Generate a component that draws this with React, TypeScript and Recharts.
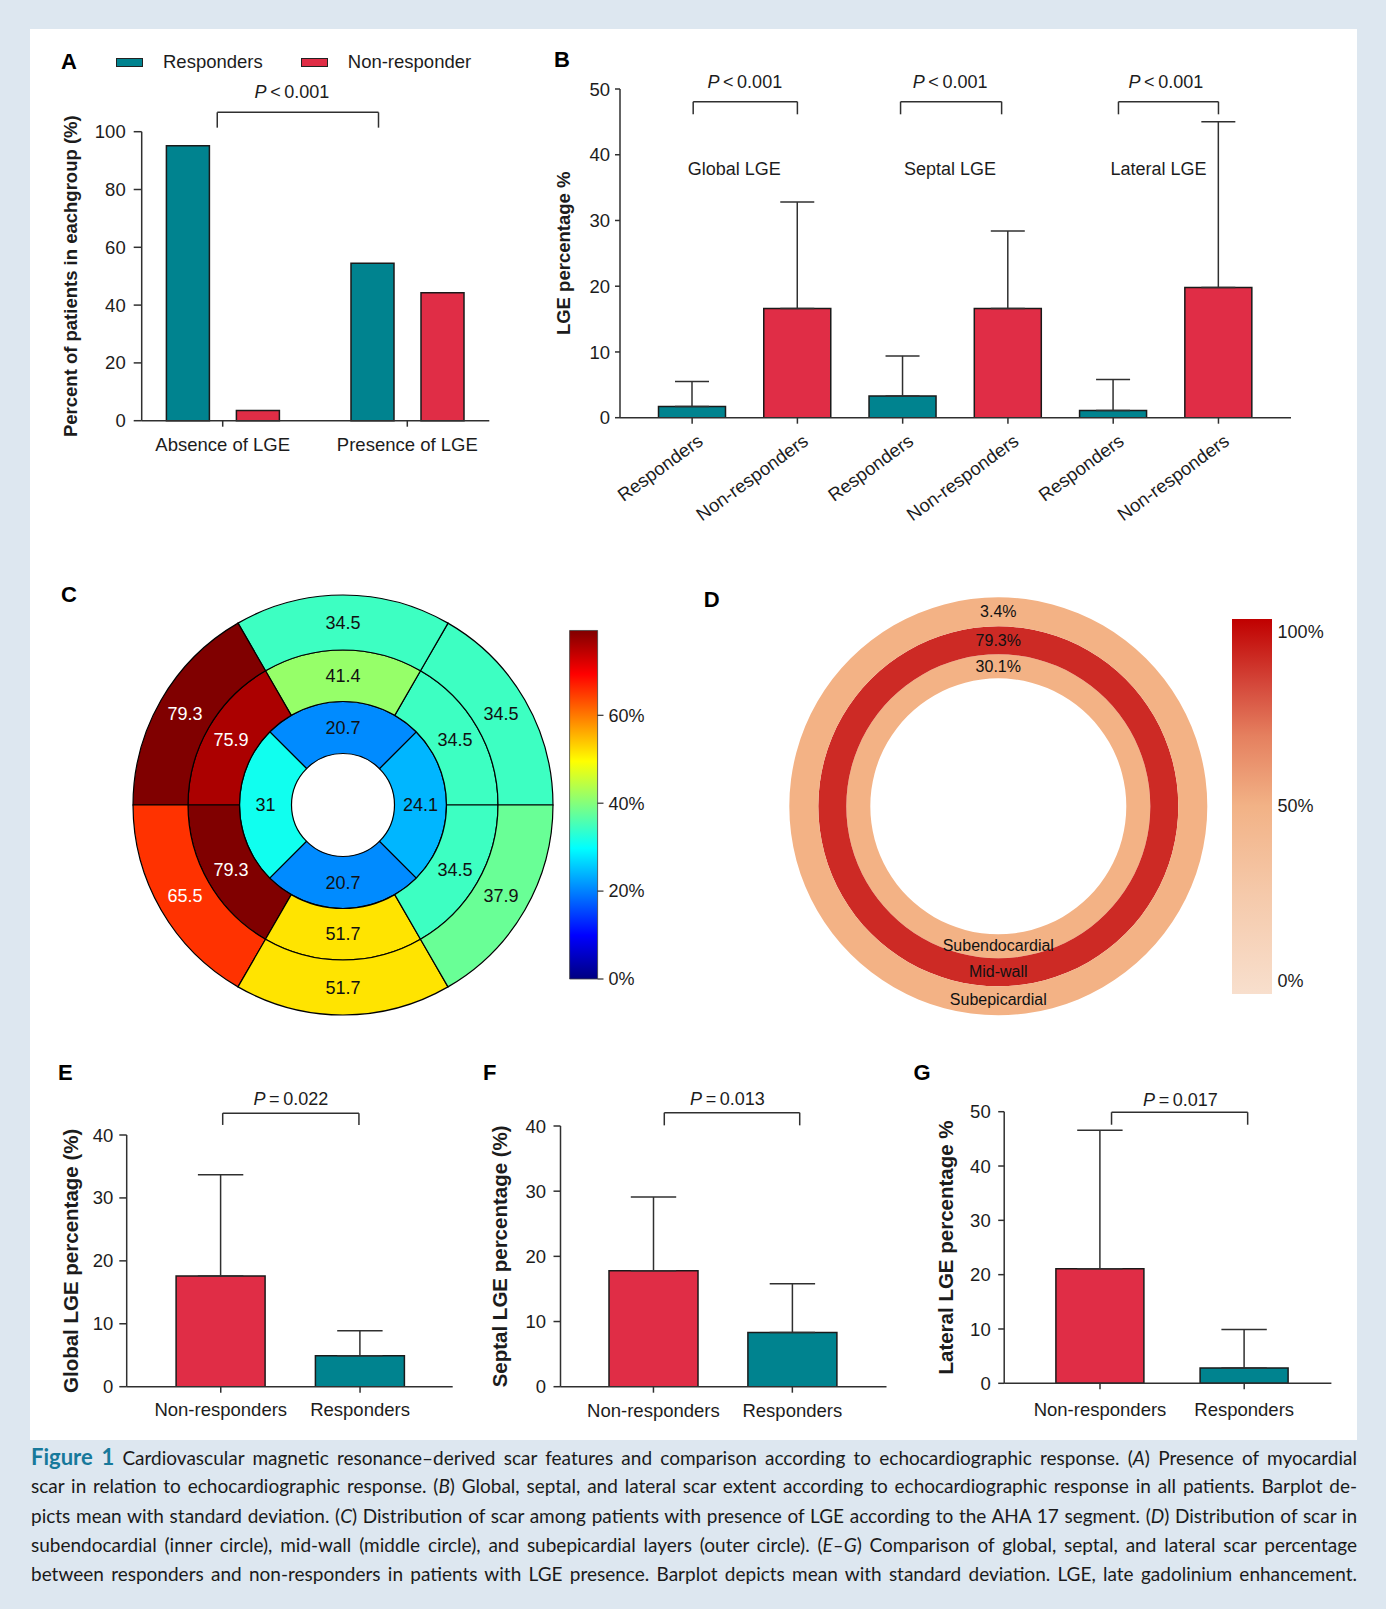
import React from 'react';
import {
  BarChart,
  Bar,
  XAxis,
  YAxis,
  ErrorBar,
  Cell,
  ReferenceLine,
  ReferenceDot,
  Legend,
  PieChart,
  Pie,
} from 'recharts';

const BG = '#dde7f0';
const TEAL = '#00838f';
const RED = '#e02d46';
const INK = '#1c1c1c';
const AXIS = '#303030';
const FONT = "'Liberation Sans', Arial, Helvetica, sans-serif";

// A: presence of scar by response group
const aGroups = ['Absence of LGE', 'Presence of LGE'];
const aSeries = ['Responders', 'Non-responder'];
const aResponders = [95.1, 54.5];
const aNonResponders = [3.5, 44.3];
const aTicks = [0, 20, 40, 60, 80, 100];

// B: global / septal / lateral scar, mean with SD
const bRegions = ['Global LGE', 'Septal LGE', 'Lateral LGE'];
const bArms = ['Responders', 'Non-responders'];
const bMeans = [1.7, 16.6, 3.3, 16.6, 1.1, 19.8];
const bSD = [3.8, 16.2, 6.1, 11.8, 4.7, 25.2];
const bTicks = [0, 10, 20, 30, 40, 50];

// C: AHA bullseye (counter-clockwise from 3 o'clock)
const cBasal = [34.5, 34.5, 79.3, 65.5, 51.7, 37.9];
const cMid = [34.5, 41.4, 75.9, 79.3, 51.7, 34.5];
const cApical = [24.1, 20.7, 31, 20.7]; // starts at -45 deg
const cBarTicks = [0, 20, 40, 60];

// D: layers (inner -> outer)
const dLayers = ['Subendocardial', 'Mid-wall', 'Subepicardial'];
const dShares = [30.1, 79.3, 3.4];
const dBarTicks = [0, 50, 100];
const dBarRange: [number, number] = [-3.8, 103.5];

// E/F/G
const efgArms = ['Non-responders', 'Responders'];
const eMeans = [17.6, 4.9];
const eSD = [16.1, 4.0];
const fMeans = [17.8, 8.3];
const fSD = [11.3, 7.5];
const gMeans = [21.1, 2.8];
const gSD = [25.5, 7.1];
const t40 = [0, 10, 20, 30, 40];
const t50 = [0, 10, 20, 30, 40, 50];

type Row = { slot: string; arm: string; mean: number; err: [number, number]; pos: number };
type Note = { x1: number; x2: number; y: number; leg: number; tx: number; ty: number; p: string };
type Tag = { x: number; y: number; text: string };

const armFill = (arm: string) => (arm === 'Responders' ? TEAL : RED);

const jet = (t: number) => {
  const c = (v: number) => Math.round(255 * Math.max(0, Math.min(1, v)));
  return `rgb(${c(1.5 - Math.abs(4 * t - 3))},${c(1.5 - Math.abs(4 * t - 2))},${c(1.5 - Math.abs(4 * t - 1))})`;
};
const cMax = Math.max(...cBasal, ...cMid, ...cApical);

const axisTitle = (text: string, dx: number, size: number) => (props: any) => {
  const vb = props.viewBox || {};
  const x = (vb.x ?? 0) + dx;
  const y = (vb.y ?? 0) + (vb.height ?? 0) / 2;
  return (
    <text
      x={x}
      y={y}
      transform={`rotate(-90, ${x}, ${y})`}
      textAnchor="middle"
      dominantBaseline="central"
      fontFamily={FONT}
      fontWeight="bold"
      fontSize={size}
      fill={INK}
    >
      {text}
    </text>
  );
};

const noteText = (text: string, italicP: boolean) => (props: any) => {
  const vb = props.viewBox || {};
  const x = (vb.x ?? 0) + (vb.width ?? 0) / 2;
  const y = (vb.y ?? 0) + (vb.height ?? 0) / 2;
  return (
    <text x={x} y={y} textAnchor="middle" dominantBaseline="central" fontFamily={FONT} fontSize={18} fill={INK}>
      {italicP ? <tspan fontStyle="italic">P</tspan> : null}
      {text}
    </text>
  );
};

const bracket = (key: string, n: Note) => [
  <ReferenceLine key={key + 'h'} xAxisId="n" ifOverflow="visible" segment={[{ x: n.x1, y: n.y }, { x: n.x2, y: n.y }]} stroke={AXIS} strokeWidth={1.5} />,
  <ReferenceLine key={key + 'l'} xAxisId="n" ifOverflow="visible" segment={[{ x: n.x1, y: n.y }, { x: n.x1, y: n.leg }]} stroke={AXIS} strokeWidth={1.5} />,
  <ReferenceLine key={key + 'r'} xAxisId="n" ifOverflow="visible" segment={[{ x: n.x2, y: n.y }, { x: n.x2, y: n.leg }]} stroke={AXIS} strokeWidth={1.5} />,
  <ReferenceDot key={key + 't'} xAxisId="n" ifOverflow="visible" x={n.tx} y={n.ty} r={0} fill="none" stroke="none" label={noteText(n.p, true)} />,
];

const SlantTick = (props: any) => {
  const { x, y, payload } = props;
  const label = String(payload.value).split('|')[1];
  return (
    <text
      x={0}
      y={0}
      transform={`translate(${x + 12},${y + 18}) rotate(-36)`}
      textAnchor="end"
      fontFamily={FONT}
      fontSize={18.5}
      fill={INK}
    >
      {label}
    </text>
  );
};

interface SdPanelProps {
  left: number;
  top: number;
  width: number;
  height: number;
  margin: { top: number; right: number; bottom: number; left: number };
  rows: Row[];
  yWidth: number;
  domain: [number, number];
  ticks: number[];
  yTickSize: number;
  yTickMargin: number;
  title: string;
  titleDx: number;
  titleSize: number;
  pad: { left: number; right: number };
  xHeight: number;
  xTickMargin: number;
  barSize: number;
  cap: number;
  notes: Note[];
  slant?: boolean;
  tags?: Tag[];
}

function SdPanel(p: SdPanelProps) {
  return (
    <div style={{ position: 'absolute', left: p.left, top: p.top }}>
      <BarChart width={p.width} height={p.height} data={p.rows} margin={p.margin}>
        <XAxis
          dataKey="slot"
          padding={p.pad}
          height={p.xHeight}
          interval={0}
          tickSize={6}
          tickMargin={p.slant ? 2 : p.xTickMargin}
          axisLine={{ stroke: AXIS, strokeWidth: 1.5 }}
          tickLine={{ stroke: AXIS, strokeWidth: 1.5 }}
          tick={p.slant ? <SlantTick /> : { fill: INK, fontSize: 18.5, fontFamily: FONT }}
          tickFormatter={(v: string) => String(v).split('|')[1]}
        />
        <XAxis xAxisId="n" dataKey="pos" type="number" domain={[0, p.rows.length]} padding={p.pad} allowDataOverflow hide />
        <YAxis
          domain={p.domain}
          ticks={p.ticks}
          width={p.yWidth}
          tickSize={p.yTickSize}
          tickMargin={p.yTickMargin}
          axisLine={{ stroke: AXIS, strokeWidth: 1.5 }}
          tickLine={{ stroke: AXIS, strokeWidth: 1.5 }}
          tick={{ fill: INK, fontSize: 18.5, fontFamily: FONT }}
          allowDataOverflow
          label={axisTitle(p.title, p.titleDx, p.titleSize)}
        />
        <Bar dataKey="mean" barSize={p.barSize} stroke="#1a1a1a" strokeWidth={1.5} isAnimationActive={false}>
          {p.rows.map((r) => (
            <Cell key={r.slot} fill={armFill(r.arm)} />
          ))}
          <ErrorBar dataKey="err" width={p.cap} stroke={AXIS} strokeWidth={1.5} direction="y" isAnimationActive={false} />
        </Bar>
        {p.notes.map((n, i) => bracket('b' + i, n))}
        {(p.tags || []).map((t, i) => (
          <ReferenceDot key={'tag' + i} xAxisId="n" ifOverflow="visible" x={t.x} y={t.y} r={0} fill="none" stroke="none" label={noteText(t.text, false)} />
        ))}
      </BarChart>
    </div>
  );
}

const bRows: Row[] = bRegions.flatMap((reg, i) =>
  bArms.map((arm, j) => ({
    slot: `${reg}|${arm}`,
    arm,
    mean: bMeans[i * 2 + j],
    err: [0, bSD[i * 2 + j]] as [number, number],
    pos: i * 2 + j + 0.5,
  })),
);
const mkRows = (tag: string, means: number[], sds: number[]): Row[] =>
  efgArms.map((arm, i) => ({ slot: `${tag}|${arm}`, arm, mean: means[i], err: [0, sds[i]], pos: i + 0.5 }));

const aRows = aGroups.map((g, i) => ({ group: g, responders: aResponders[i], non: aNonResponders[i], pos: i + 0.5 }));

const aLegend = (props: any) => {
  const items = [...(props.payload || [])].sort((u: any, v: any) => aSeries.indexOf(u.value) - aSeries.indexOf(v.value));
  return (
    <div style={{ display: 'flex', alignItems: 'center', fontFamily: FONT, fontSize: 18.5, color: INK, whiteSpace: 'nowrap' }}>
      {items.map((it: any, i: number) => (
        <span key={i} style={{ display: 'flex', alignItems: 'center', marginRight: 38 }}>
          <span style={{ display: 'inline-block', width: 25, height: 7, border: '1px solid #222', background: it.color, marginRight: 20 }} />
          <span>{it.value}</span>
        </span>
      ))}
    </div>
  );
};

function PanelA() {
  const note: Note = { x1: 0.4705, x2: 1.344, y: 106.7, leg: 101.4, tx: 0.875, ty: 113.8, p: '\u2009<\u20090.001' };
  return (
    <div style={{ position: 'absolute', left: 40, top: 40 }}>
      <BarChart width={480} height={440} data={aRows} margin={{ top: 91.7, right: 30.7, bottom: 19.3, left: 0 }} barGap={27}>
        <XAxis
          dataKey="group"
          padding={{ left: -11.3, right: -10.3 }}
          height={40}
          tickSize={6}
          tickMargin={11}
          axisLine={{ stroke: AXIS, strokeWidth: 1.5 }}
          tickLine={{ stroke: AXIS, strokeWidth: 1.5 }}
          tick={{ fill: INK, fontSize: 18.5, fontFamily: FONT }}
        />
        <XAxis xAxisId="n" dataKey="pos" type="number" domain={[0, 2]} padding={{ left: -11.3, right: -10.3 }} allowDataOverflow hide />
        <YAxis
          domain={[0, 100]}
          ticks={aTicks}
          width={101.7}
          tickSize={8}
          tickMargin={8}
          axisLine={{ stroke: AXIS, strokeWidth: 1.5 }}
          tickLine={{ stroke: AXIS, strokeWidth: 1.5 }}
          tick={{ fill: INK, fontSize: 18.5, fontFamily: FONT }}
          label={axisTitle('Percent of patients in eachgroup (%)', 31, 18.5)}
        />
        <Legend
          layout="horizontal"
          verticalAlign="middle"
          align="center"
          content={aLegend}
          wrapperStyle={{ left: 76, top: 11, width: 420, height: 22 }}
        />
        <Bar dataKey="responders" name={aSeries[0]} fill={TEAL} barSize={43} stroke="#1a1a1a" strokeWidth={1.5} isAnimationActive={false} />
        <Bar dataKey="non" name={aSeries[1]} fill={RED} barSize={43} stroke="#1a1a1a" strokeWidth={1.5} isAnimationActive={false} />
        {bracket('a', note)}
      </BarChart>
    </div>
  );
}

const ringLabel = (props: any) => {
  const { cx, cy, midAngle, innerRadius, outerRadius, payload } = props;
  const r = (innerRadius + outerRadius) / 2;
  const rad = Math.PI / 180;
  const x = cx + r * Math.cos(-midAngle * rad);
  const y = cy + r * Math.sin(-midAngle * rad);
  const v = payload.scar as number;
  return (
    <text x={x} y={y} textAnchor="middle" dominantBaseline="central" fontFamily={FONT} fontSize={18} fill={v / cMax > 0.8 ? '#ffffff' : '#111'}>
      {String(v)}
    </text>
  );
};

function PanelC() {
  const rings = [
    { key: 'apical', data: cApical, inner: 51.5, outer: 103.5, start: -45 },
    { key: 'mid', data: cMid, inner: 103.5, outer: 155, start: 0 },
    { key: 'basal', data: cBasal, inner: 155, outer: 210, start: 0 },
  ];
  const jetStops = [0, 0.125, 0.375, 0.625, 0.875, 1];
  return (
    <>
      <div style={{ position: 'absolute', left: 100, top: 570 }}>
        <PieChart width={460} height={470} margin={{ top: 0, right: 0, bottom: 0, left: 0 }}>
          {rings.map((ring) => (
            <Pie
              key={ring.key}
              data={ring.data.map((v) => ({ scar: v }))}
              dataKey={() => 1}
              cx={243}
              cy={235}
              innerRadius={ring.inner}
              outerRadius={ring.outer}
              startAngle={ring.start}
              endAngle={ring.start + 360}
              stroke="#000"
              strokeWidth={1.2}
              label={ringLabel}
              labelLine={false}
              isAnimationActive={false}
            >
              {ring.data.map((v, i) => (
                <Cell key={i} fill={jet(v / cMax)} />
              ))}
            </Pie>
          ))}
        </PieChart>
      </div>
      <div style={{ position: 'absolute', left: 560, top: 600 }}>
        <BarChart width={100} height={400} data={[{ k: 'scale', range: [0, cMax] }]} margin={{ top: 27.4, right: 7.5, bottom: 21, left: 9.6 }} barCategoryGap={0}>
          <defs>
            <linearGradient id="jetGrad" x1="0" y1="1" x2="0" y2="0">
              {jetStops.map((t) => (
                <stop key={t} offset={t} stopColor={jet(t)} />
              ))}
            </linearGradient>
          </defs>
          <XAxis dataKey="k" hide />
          <YAxis
            orientation="right"
            domain={[0, 80]}
            ticks={cBarTicks}
            width={55}
            tickSize={6}
            tickMargin={5}
            axisLine={false}
            tickLine={{ stroke: AXIS, strokeWidth: 1.2 }}
            tick={{ fill: INK, fontSize: 18, fontFamily: FONT }}
            tickFormatter={(v: number) => `${v}%`}
          />
          <Bar dataKey="range" fill="url(#jetGrad)" stroke="#444" strokeWidth={0.8} isAnimationActive={false} />
        </BarChart>
      </div>
    </>
  );
}

const layerLabel = (props: any) => {
  const { cx, cy, innerRadius, outerRadius, payload } = props;
  const r = (innerRadius + outerRadius) / 2;
  return (
    <g fontFamily={FONT} fontSize={16} fill="#111">
      <text x={cx} y={cy - r} textAnchor="middle" dominantBaseline="central">{`${payload.share}%`}</text>
      <text x={cx} y={cy + r - 1} textAnchor="middle" dominantBaseline="central">{payload.layer}</text>
    </g>
  );
};

function PanelD() {
  const radii = [
    [128, 152],
    [152, 180],
    [180, 209],
  ];
  const colors = ['#f3b285', '#cd2a25', '#f3b285'];
  const gradStops = [
    { v: -3.8, c: '#f8dfcd' },
    { v: 25, c: '#f5c9aa' },
    { v: 50, c: '#f2b286' },
    { v: 70, c: '#e5805f' },
    { v: 85, c: '#d4473a' },
    { v: 103.5, c: '#c00000' },
  ];
  const span = dBarRange[1] - dBarRange[0];
  return (
    <>
      <div style={{ position: 'absolute', left: 780, top: 580 }}>
        <PieChart width={440} height={440} margin={{ top: 0, right: 0, bottom: 0, left: 0 }}>
          {dLayers.map((layer, i) => (
            <Pie
              key={layer}
              data={[{ layer, share: dShares[i] }]}
              dataKey={() => 1}
              cx={218.3}
              cy={226.3}
              innerRadius={radii[i][0]}
              outerRadius={radii[i][1]}
              startAngle={90}
              endAngle={450}
              stroke="none"
              fill={colors[i]}
              label={layerLabel}
              labelLine={false}
              isAnimationActive={false}
            />
          ))}
        </PieChart>
      </div>
      <div style={{ position: 'absolute', left: 1220, top: 590 }}>
        <BarChart width={130} height={420} data={[{ k: 'scale', range: dBarRange }]} margin={{ top: 29, right: 8, bottom: 16, left: 12 }} barCategoryGap={0}>
          <defs>
            <linearGradient id="redGrad" x1="0" y1="1" x2="0" y2="0">
              {gradStops.map((s) => (
                <stop key={s.v} offset={(s.v - dBarRange[0]) / span} stopColor={s.c} />
              ))}
            </linearGradient>
          </defs>
          <XAxis dataKey="k" hide />
          <YAxis
            orientation="right"
            domain={dBarRange}
            ticks={dBarTicks}
            width={70}
            tickSize={0}
            tickMargin={5.6}
            axisLine={false}
            tickLine={false}
            allowDataOverflow
            tick={{ fill: INK, fontSize: 18, fontFamily: FONT }}
            tickFormatter={(v: number) => `${v}%`}
          />
          <Bar dataKey="range" fill="url(#redGrad)" isAnimationActive={false} />
        </BarChart>
      </div>
    </>
  );
}

const letters = [
  { t: 'A', x: 61, y: 61.7 },
  { t: 'B', x: 554, y: 60 },
  { t: 'C', x: 61, y: 595 },
  { t: 'D', x: 703.8, y: 599.3 },
  { t: 'E', x: 58, y: 1073 },
  { t: 'F', x: 483, y: 1073 },
  { t: 'G', x: 913.5, y: 1073 },
];

const captionLines: React.ReactNode[] = [
  <>
    <b style={{ color: '#17799b', fontSize: 22 }}>Figure 1</b> Cardiovascular magnetic resonance–derived scar features and comparison according to echocardiographic response. (<i>A</i>) Presence of myocardial
  </>,
  <>
    scar in relation to echocardiographic response. (<i>B</i>) Global, septal, and lateral scar extent according to echocardiographic response in all patients. Barplot de-
  </>,
  <>
    picts mean with standard deviation. (<i>C</i>) Distribution of scar among patients with presence of LGE according to the AHA 17 segment. (<i>D</i>) Distribution of scar in
  </>,
  <>
    subendocardial (inner circle), mid-wall (middle circle), and subepicardial layers (outer circle). (<i>E–G</i>) Comparison of global, septal, and lateral scar percentage
  </>,
  <>between responders and non-responders in patients with LGE presence. Barplot depicts mean with standard deviation. LGE, late gadolinium enhancement.</>,
];

export default function App() {
  return (
    <div style={{ position: 'absolute', left: 0, top: 0, width: 1386, height: 1609, background: BG, overflow: 'hidden', fontFamily: FONT }}>
      <div style={{ position: 'absolute', left: 30, top: 29, width: 1327, height: 1411, background: '#ffffff' }} />

      <PanelA />

      <SdPanel
        left={540}
        top={40}
        width={760}
        height={500}
        margin={{ top: 49, right: 9, bottom: 12.3, left: 0 }}
        rows={bRows}
        yWidth={80}
        domain={[0, 50]}
        ticks={bTicks}
        yTickSize={5}
        yTickMargin={5}
        title="LGE percentage %"
        titleDx={23.6}
        titleSize={18.5}
        pad={{ left: 19.5, right: 19.9 }}
        xHeight={110}
        xTickMargin={2}
        barSize={67}
        cap={17}
        slant
        notes={[
          { x1: 0.51, x2: 1.5, y: 48.07, leg: 46.15, tx: 1.0, ty: 51.0, p: '\u2009<\u20090.001' },
          { x1: 2.48, x2: 3.44, y: 48.07, leg: 46.15, tx: 2.95, ty: 51.0, p: '\u2009<\u20090.001' },
          { x1: 4.55, x2: 5.5, y: 48.07, leg: 46.15, tx: 5.0, ty: 51.0, p: '\u2009<\u20090.001' },
        ]}
        tags={[
          { x: 0.9, y: 37.8, text: bRegions[0] },
          { x: 2.95, y: 37.8, text: bRegions[1] },
          { x: 4.93, y: 37.8, text: bRegions[2] },
        ]}
      />

      <PanelC />
      <PanelD />

      <SdPanel
        left={40}
        top={1040}
        width={430}
        height={400}
        margin={{ top: 95, right: 17.3, bottom: 13.3, left: 0 }}
        rows={mkRows('E', eMeans, eSD)}
        yWidth={86.7}
        domain={[0, 40]}
        ticks={t40}
        yTickSize={7.4}
        yTickMargin={6}
        title="Global LGE percentage (%)"
        titleDx={31}
        titleSize={20.5}
        pad={{ left: 24.4, right: 23 }}
        xHeight={40}
        xTickMargin={9.7}
        barSize={89}
        cap={22.7}
        notes={[{ x1: 0.514, x2: 1.492, y: 43.47, leg: 41.6, tx: 1.003, ty: 45.7, p: '\u2009=\u20090.022' }]}
      />
      <SdPanel
        left={470}
        top={1040}
        width={430}
        height={400}
        margin={{ top: 86, right: 13.5, bottom: 13.3, left: 0 }}
        rows={mkRows('F', fMeans, fSD)}
        yWidth={90.5}
        domain={[0, 40]}
        ticks={t40}
        yTickSize={7}
        yTickMargin={7.5}
        title="Septal LGE percentage (%)"
        titleDx={30}
        titleSize={20.5}
        pad={{ left: 23.5, right: 24.7 }}
        xHeight={40}
        xTickMargin={10.7}
        barSize={89}
        cap={22.7}
        notes={[{ x1: 0.578, x2: 1.553, y: 42.04, leg: 40.1, tx: 1.033, ty: 44.1, p: '\u2009=\u20090.013' }]}
      />
      <SdPanel
        left={900}
        top={1040}
        width={450}
        height={400}
        margin={{ top: 71.7, right: 18.6, bottom: 16.7, left: 0 }}
        rows={mkRows('G', gMeans, gSD)}
        yWidth={104.2}
        domain={[0, 50]}
        ticks={t50}
        yTickSize={6}
        yTickMargin={7.5}
        title="Lateral LGE percentage %"
        titleDx={45}
        titleSize={20.5}
        pad={{ left: 23.7, right: 15.1 }}
        xHeight={40}
        xTickMargin={14}
        barSize={88}
        cap={22.7}
        notes={[{ x1: 0.58, x2: 1.524, y: 49.9, leg: 47.6, tx: 1.058, ty: 52.2, p: '\u2009=\u20090.017' }]}
      />

      {letters.map((l) => (
        <div
          key={l.t}
          style={{ position: 'absolute', left: l.x, top: l.y - 10.7, fontSize: 22, lineHeight: '22px', fontWeight: 'bold', color: '#000', fontFamily: FONT }}
        >
          {l.t}
        </div>
      ))}

      <div style={{ position: 'absolute', left: 31, top: 1442, width: 1326, fontFamily: "Lato, 'Open Sans', sans-serif", fontSize: 19, color: '#1a1a1a' }}>
        {captionLines.map((line, i) => (
          <div key={i} style={{ height: 29.25, lineHeight: '29.25px', textAlign: 'justify', textAlignLast: 'justify', whiteSpace: 'nowrap' }}>
            {line}
          </div>
        ))}
      </div>
    </div>
  );
}
